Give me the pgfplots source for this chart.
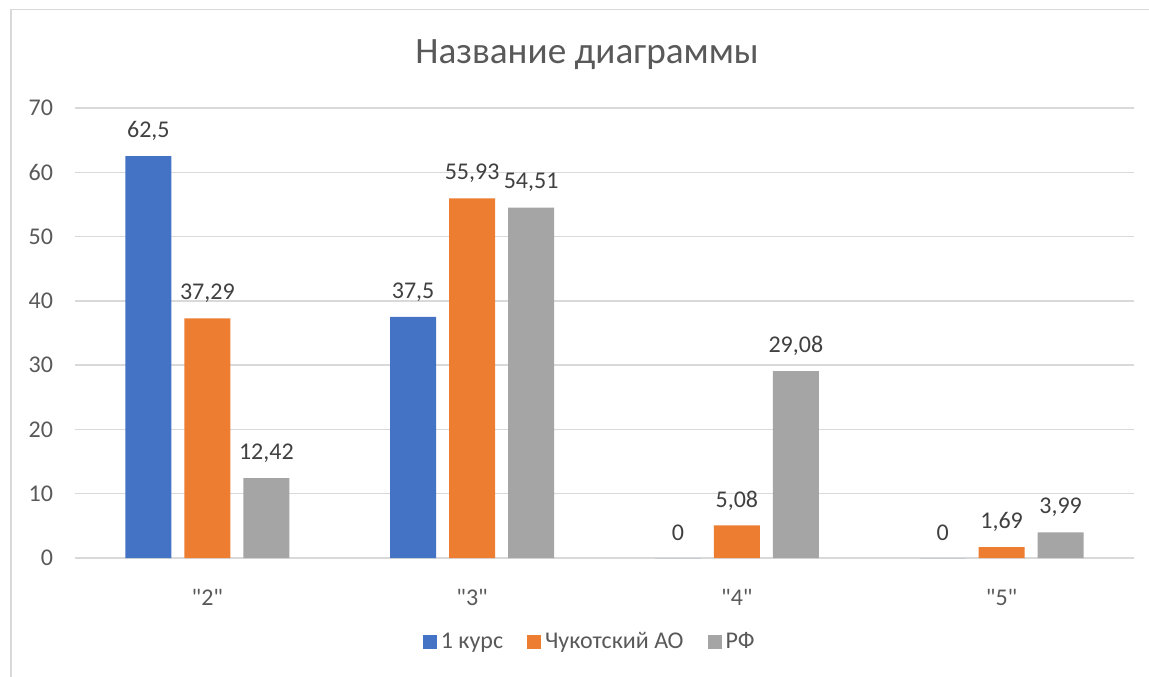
\documentclass[border=0pt]{standalone}
\usepackage{pgfplots}
\pgfplotsset{compat=1.18}
\usepackage{fontspec}
\setmainfont{Carlito}[Ligatures=TeXOff]
\definecolor{cblue}{HTML}{4472C4}
\definecolor{corange}{HTML}{ED7D31}
\definecolor{cgray}{HTML}{A5A5A5}
\definecolor{gridc}{HTML}{D9D9D9}
\definecolor{tickc}{HTML}{595959}
\definecolor{labc}{HTML}{404040}
\newcommand{\q}{\char34\relax}
\begin{document}
\begin{tikzpicture}
\path[use as bounding box] (-37.5pt,-59pt) rectangle (537pt,279pt);
\draw[gridc, line width=0.75pt] (-32pt,-60pt) -- (-32pt,274.25pt) -- (538pt,274.25pt);
\begin{axis}[
  at={(0pt,0pt)}, anchor=south west,
  scale only axis, width=529.5pt, height=225pt,
  xmin=-0.5, xmax=3.5, ymin=0, ymax=70,
  enlargelimits=false,
  ybar=6.5pt, bar width=23pt,
  axis line style={draw=none},
  tick style={draw=none},
  ymajorgrids, grid style={gridc, line width=0.75pt},
  ytick={0,10,...,70},
  xtick={0,1,2,3},
  xticklabels={{\q2\q},{\q3\q},{\q4\q},{\q5\q}},
  /pgf/number format/assume math mode=true,
  /pgf/number format/use comma,
  tick label style={font=\fontsize{12}{14}\selectfont, text=tickc},
  yticklabel style={xshift=-7.5pt},
  xticklabel style={yshift=-8pt},
  nodes near coords,
  every node near coord/.append style={font=\fontsize{12}{14}\selectfont, text=labc, anchor=center, yshift=12.5pt},
  legend style={at={(axis description cs:0.487,-0.187)}, anchor=center, draw=none, fill=none,
    font=\fontsize{12}{14}\selectfont, text=tickc,
    /tikz/every even column/.append style={column sep=10pt}},
  legend columns=3,
  legend image code/.code={\fill[#1] (0pt,-3.5pt) rectangle (7pt,3.5pt);},
]
\addplot[fill=cblue, draw=none] coordinates {(0,62.5) (1,37.5) (2,0) (3,0)};
\addplot[fill=corange, draw=none] coordinates {(0,37.29) (1,55.93) (2,5.08) (3,1.69)};
\addplot[fill=cgray, draw=none] coordinates {(0,12.42) (1,54.51) (2,29.08) (3,3.99)};
\legend{1 курс, Чукотский АО, РФ}
\end{axis}
\node[text=tickc, font=\fontsize{18.6}{22}\selectfont] at (256pt,251.5pt) {Название диаграммы};
\end{tikzpicture}
\end{document}
